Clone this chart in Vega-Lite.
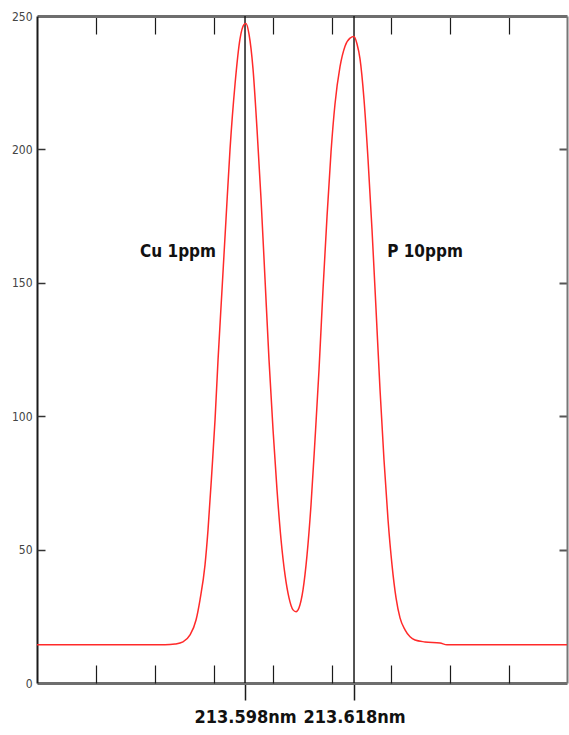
{
  "$schema": "https://vega.github.io/schema/vega-lite/v6.json",
  "width": 530,
  "height": 667,
  "autosize": {"type": "none"},
  "padding": {"left": 37, "top": 16, "right": 2, "bottom": 52},
  "background": "white",
  "config": {"view": {"stroke": null}},
  "datasets": {
    "curve": [
      {"nm": 213.55983, "intensity": 14.3},
      {"nm": 213.57139, "intensity": 14.3},
      {"nm": 213.58332, "intensity": 14.3},
      {"nm": 213.58516, "intensity": 14.6},
      {"nm": 213.58662, "intensity": 15.4},
      {"nm": 213.58791, "intensity": 18.0},
      {"nm": 213.58901, "intensity": 23.6},
      {"nm": 213.58974, "intensity": 31.2},
      {"nm": 213.59066, "intensity": 44.3},
      {"nm": 213.59121, "intensity": 57.4},
      {"nm": 213.59194, "intensity": 80.0},
      {"nm": 213.59250, "intensity": 98.7},
      {"nm": 213.59305, "intensity": 121.2},
      {"nm": 213.59378, "intensity": 147.5},
      {"nm": 213.59451, "intensity": 173.8},
      {"nm": 213.59525, "intensity": 200.1},
      {"nm": 213.59617, "intensity": 224.5},
      {"nm": 213.59708, "intensity": 241.4},
      {"nm": 213.59782, "intensity": 246.8},
      {"nm": 213.59818, "intensity": 247.2},
      {"nm": 213.59873, "intensity": 243.2},
      {"nm": 213.59947, "intensity": 230.1},
      {"nm": 213.60020, "intensity": 207.6},
      {"nm": 213.60094, "intensity": 181.3},
      {"nm": 213.60167, "intensity": 151.3},
      {"nm": 213.60240, "intensity": 121.2},
      {"nm": 213.60314, "intensity": 94.9},
      {"nm": 213.60387, "intensity": 72.4},
      {"nm": 213.60461, "intensity": 53.7},
      {"nm": 213.60534, "intensity": 40.5},
      {"nm": 213.60607, "intensity": 31.9},
      {"nm": 213.60681, "intensity": 27.4},
      {"nm": 213.60736, "intensity": 26.7},
      {"nm": 213.60791, "intensity": 28.2},
      {"nm": 213.60864, "intensity": 34.9},
      {"nm": 213.60938, "intensity": 48.0},
      {"nm": 213.61011, "intensity": 66.8},
      {"nm": 213.61084, "intensity": 91.2},
      {"nm": 213.61158, "intensity": 117.5},
      {"nm": 213.61231, "intensity": 147.5},
      {"nm": 213.61305, "intensity": 175.0},
      {"nm": 213.61378, "intensity": 199.0},
      {"nm": 213.61451, "intensity": 217.0},
      {"nm": 213.61543, "intensity": 231.0},
      {"nm": 213.61635, "intensity": 238.7},
      {"nm": 213.61727, "intensity": 241.7},
      {"nm": 213.61800, "intensity": 242.3},
      {"nm": 213.61855, "intensity": 239.5},
      {"nm": 213.61910, "intensity": 233.9},
      {"nm": 213.61983, "intensity": 218.8},
      {"nm": 213.62057, "intensity": 196.3},
      {"nm": 213.62130, "intensity": 170.0},
      {"nm": 213.62204, "intensity": 140.0},
      {"nm": 213.62277, "intensity": 110.0},
      {"nm": 213.62350, "intensity": 83.7},
      {"nm": 213.62424, "intensity": 61.2},
      {"nm": 213.62497, "intensity": 44.3},
      {"nm": 213.62571, "intensity": 31.9},
      {"nm": 213.62644, "intensity": 24.4},
      {"nm": 213.62736, "intensity": 19.9},
      {"nm": 213.62828, "intensity": 17.3},
      {"nm": 213.62919, "intensity": 16.1},
      {"nm": 213.63103, "intensity": 15.4},
      {"nm": 213.63378, "intensity": 15.0},
      {"nm": 213.63506, "intensity": 14.3},
      {"nm": 213.64479, "intensity": 14.3},
      {"nm": 213.65708, "intensity": 14.3}
    ],
    "peaks": [
      {"element": "Cu", "nm": 213.598},
      {"element": "P", "nm": 213.618}
    ],
    "labelCu": [{"label": "Cu 1ppm", "nm": 213.58571, "intensity": 161.4}],
    "labelP": [{"label": "P 10ppm", "nm": 213.63103, "intensity": 161.4}]
  },
  "resolve": {"axis": {"x": "independent", "y": "independent"}},
  "layer": [
    {
      "data": {"name": "peaks"},
      "mark": {"type": "rule", "color": "#1a1a1a", "strokeWidth": 1.5},
      "encoding": {
        "x": {"field": "nm", "type": "quantitative", "scale": {"domain": [213.55983, 213.65708], "nice": false, "zero": false}, "axis": null}
      }
    },
    {
      "data": {"name": "curve"},
      "mark": {"type": "line", "color": "#ff2a2a", "strokeWidth": 1.5, "interpolate": "monotone"},
      "encoding": {
        "x": {
          "field": "nm", "type": "quantitative",
          "scale": {"domain": [213.55983, 213.65708], "nice": false, "zero": false},
          "axis": {
            "orient": "bottom", "title": null, "grid": false,
            "values": [213.598, 213.618],
            "labelExpr": "format(datum.value, '.3f') + 'nm'",
            "tickSize": 17, "tickColor": "#1a1a1a", "tickWidth": 1.5,
            "domain": true, "domainColor": "#6e6e6e", "domainWidth": 3,
            "labelFont": "DejaVu Sans Condensed, Liberation Sans, sans-serif", "labelFontWeight": "bold", "labelFontSize": 18,
            "labelColor": "#111", "labelPadding": 8, "labelBaseline": "top", "labelFlush": false
          }
        },
        "y": {
          "field": "intensity", "type": "quantitative",
          "scale": {"domain": [0, 250], "nice": false},
          "axis": {
            "orient": "left", "title": null, "grid": false,
            "values": [0, 50, 100, 150, 200, 250],
            "ticks": false, "labelPadding": 5,
            "domain": true, "domainColor": "#1a1a1a", "domainWidth": 2,
            "labelFont": "DejaVu Sans Condensed, Liberation Sans, sans-serif", "labelFontSize": 12, "labelColor": "#444",
            "labelFlush": false
          }
        }
      }
    },
    {
      "data": {"name": "labelCu"},
      "mark": {"type": "text", "font": "DejaVu Sans Condensed, Liberation Sans, sans-serif", "fontWeight": "bold", "fontSize": 17, "color": "#111", "align": "center", "baseline": "middle"},
      "encoding": {
        "x": {
          "field": "nm", "type": "quantitative",
          "scale": {"domain": [213.55983, 213.65708], "nice": false, "zero": false},
          "axis": {
            "orient": "bottom", "title": null, "grid": false, "labels": false, "domain": false,
            "values": [213.57066, 213.58148, 213.59231, 213.60313, 213.61396, 213.62479, 213.63561, 213.64644],
            "tickSize": -18, "tickColor": "#1a1a1a", "tickWidth": 1.2
          }
        },
        "y": {
          "field": "intensity", "type": "quantitative",
          "scale": {"domain": [0, 250], "nice": false},
          "axis": {
            "orient": "right", "title": null, "grid": false, "labels": false,
            "values": [50, 100, 150, 200],
            "tickSize": -8, "tickColor": "#555", "tickWidth": 2,
            "domain": true, "domainColor": "#777", "domainWidth": 2
          }
        },
        "text": {"field": "label"}
      }
    },
    {
      "data": {"name": "labelP"},
      "mark": {"type": "text", "font": "DejaVu Sans Condensed, Liberation Sans, sans-serif", "fontWeight": "bold", "fontSize": 17, "color": "#111", "align": "center", "baseline": "middle"},
      "encoding": {
        "x": {
          "field": "nm", "type": "quantitative",
          "scale": {"domain": [213.55983, 213.65708], "nice": false, "zero": false},
          "axis": {
            "orient": "top", "title": null, "grid": false, "labels": false,
            "values": [213.57066, 213.58148, 213.59231, 213.60313, 213.61396, 213.62479, 213.63561, 213.64644],
            "tickSize": -18, "tickColor": "#1a1a1a", "tickWidth": 1.2,
            "domain": true, "domainColor": "#6e6e6e", "domainWidth": 3
          }
        },
        "y": {
          "field": "intensity", "type": "quantitative",
          "scale": {"domain": [0, 250], "nice": false},
          "axis": {
            "orient": "left", "title": null, "grid": false, "labels": false, "domain": false,
            "values": [50, 100, 150, 200],
            "tickSize": -8, "tickColor": "#333", "tickWidth": 1.5
          }
        },
        "text": {"field": "label"}
      }
    }
  ]
}
